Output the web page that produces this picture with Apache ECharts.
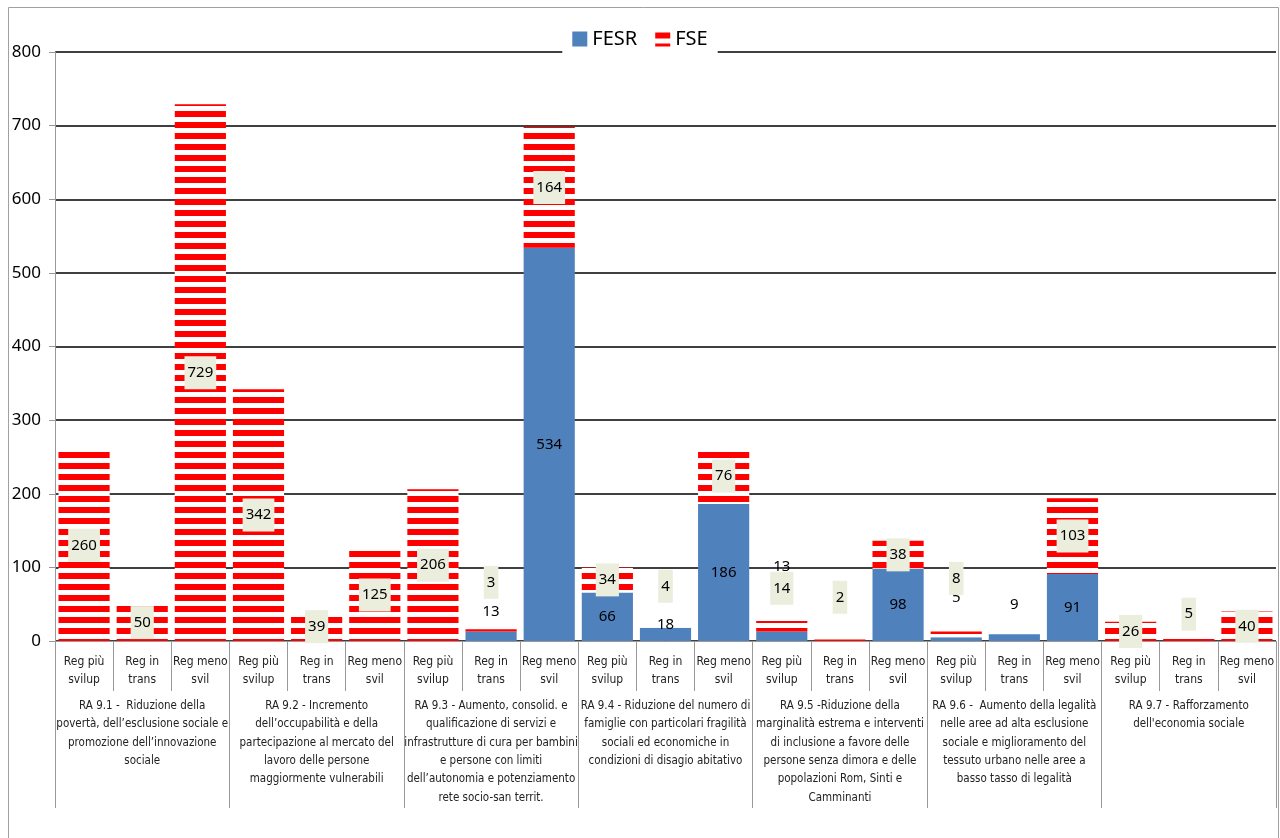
<!DOCTYPE html>
<html>
<head>
<meta charset="utf-8">
<script src="https://cdn.jsdelivr.net/npm/echarts@6/dist/echarts.min.js"></script>
<style>
html,body{margin:0;padding:0;background:#fff;}
#chart{width:1280px;height:838px;}
</style>
</head>
<body>
<div id="chart"></div>
<script>
// ---- data ----
const subCategories = [
  'Reg più\nsvilup','Reg in\ntrans','Reg meno\nsvil',
  'Reg più\nsvilup','Reg in\ntrans','Reg meno\nsvil',
  'Reg più\nsvilup','Reg in\ntrans','Reg meno\nsvil',
  'Reg più\nsvilup','Reg in\ntrans','Reg meno\nsvil',
  'Reg più\nsvilup','Reg in\ntrans','Reg meno\nsvil',
  'Reg più\nsvilup','Reg in\ntrans','Reg meno\nsvil',
  'Reg più\nsvilup','Reg in\ntrans','Reg meno\nsvil'
];
const groupCategories = [
  'RA 9.1 -  Riduzione della\npovertà, dell’esclusione sociale e\npromozione dell’innovazione\nsociale',
  'RA 9.2 - Incremento\ndell’occupabilità e della\npartecipazione al mercato del\nlavoro delle persone\nmaggiormente vulnerabili',
  'RA 9.3 - Aumento, consolid. e\nqualificazione di servizi e\ninfrastrutture di cura per bambini\ne persone con limiti\ndell’autonomia e potenziamento\nrete socio-san territ.',
  'RA 9.4 - Riduzione del numero di\nfamiglie con particolari fragilità\nsociali ed economiche in\ncondizioni di disagio abitativo',
  'RA 9.5 -Riduzione della\nmarginalità estrema e interventi\ndi inclusione a favore delle\npersone senza dimora e delle\npopolazioni Rom, Sinti e\nCamminanti',
  'RA 9.6 -  Aumento della legalità\nnelle aree ad alta esclusione\nsociale e miglioramento del\ntessuto urbano nelle aree a\nbasso tasso di legalità',
  'RA 9.7 - Rafforzamento\ndell\'economia sociale'
];
const fesrValues = [0,0,0, 0,0,0, 0,13,534, 66,18,186, 13,0,98, 5,9,91, 0,0,0];
const fseValues  = [260,50,729, 342,39,125, 206,3,164, 34,4,76, 14,2,38, 8,0,103, 26,5,40];
const yTicks = { min: 0, max: 800, interval: 100 };

// ---- label style tweaks (manually moved labels in the original) ----
const fesrLabelShift = {7:-24, 10:-10, 12:-69, 15:-41, 16:-33};
const fseLabelShift  = {7:-48, 10:-40, 12:-38, 13:-43, 15:-56, 19:-25};

// striped pattern for FSE
const tile = document.createElement('canvas');
tile.width = 8; tile.height = 11;
const tctx = tile.getContext('2d');
tctx.fillStyle = '#ffffff'; tctx.fillRect(0,0,8,11);
tctx.fillStyle = '#ff0000'; tctx.fillRect(0,1,8,6);
const fsePattern = { image: tile, repeat: 'repeat' };

function buildData(values, shifts) {
  return values.map((v, i) => {
    const item = { value: v };
    if (v === 0) item.label = { show: false };
    else if (shifts[i] !== undefined) item.label = { offset: [0, shifts[i]] };
    return item;
  });
}

const labelFont = '"Noto Sans", "Open Sans", sans-serif';
const axisFont = '"Liberation Sans Narrow", "DejaVu Sans Condensed", "Liberation Sans", sans-serif';

const chart = echarts.init(document.getElementById('chart'), null, { renderer: 'canvas' });
chart.setOption({
  animation: false,
  backgroundColor: '#ffffff',
  graphic: [{
    type: 'rect', z: 100, silent: true,
    shape: { x: 8.5, y: 7.5, width: 1270, height: 840 },
    style: { fill: 'none', stroke: '#a0a0a0', lineWidth: 1 }
  }],
  legend: {
    top: 21, left: 'center',
    backgroundColor: '#ffffff',
    padding: [8, 10, 6, 10],
    icon: 'rect',
    itemWidth: 15, itemHeight: 15, itemGap: 18,
    selectedMode: false,
    textStyle: { fontFamily: labelFont, fontSize: 20, color: '#000' },
    data: ['FESR', 'FSE']
  },
  grid: { left: 55, right: 4, top: 52, bottom: 197, containLabel: false },
  xAxis: [{
    type: 'category', data: subCategories, position: 'bottom',
    axisLine: { show: true, lineStyle: { color: '#999', width: 1 } },
    axisTick: { show: true, interval: 0, length: 50, lineStyle: { color: '#999' } },
    axisLabel: { interval: 0, margin: 12, fontFamily: axisFont, fontSize: 12, lineHeight: 18, color: '#222' }
  }, {
    type: 'category', data: groupCategories, position: 'bottom',
    axisLine: { show: false },
    axisTick: { show: true, interval: 0, length: 167, lineStyle: { color: '#999' } },
    axisLabel: { interval: 0, margin: 56, fontFamily: axisFont, fontSize: 11.5, lineHeight: 18.3, color: '#222' }
  }],
  yAxis: {
    type: 'value', min: yTicks.min, max: yTicks.max, interval: yTicks.interval,
    axisLine: { show: true, lineStyle: { color: '#999' } },
    axisTick: { show: true, length: 6, lineStyle: { color: '#999' } },
    axisLabel: { margin: 14, fontFamily: labelFont, fontSize: 17, color: '#000' },
    splitLine: { show: true, lineStyle: { color: '#000', width: 1.5 } }
  },
  series: [{
    name: 'FESR', type: 'bar', stack: 'tot', barCategoryGap: '12%',
    itemStyle: { color: '#4F81BD' },
    label: { show: true, position: 'inside', fontFamily: labelFont, fontSize: 15, color: '#000' },
    data: buildData(fesrValues, fesrLabelShift)
  }, {
    name: 'FSE', type: 'bar', stack: 'tot', barCategoryGap: '12%',
    itemStyle: { color: fsePattern },
    label: {
      show: true, position: 'inside', fontFamily: labelFont, fontSize: 15, color: '#000',
      backgroundColor: '#EBEEDD', padding: [8, 3, 8, 3], lineHeight: 17
    },
    data: buildData(fseValues, fseLabelShift)
  }]
});
</script>
</body>
</html>
